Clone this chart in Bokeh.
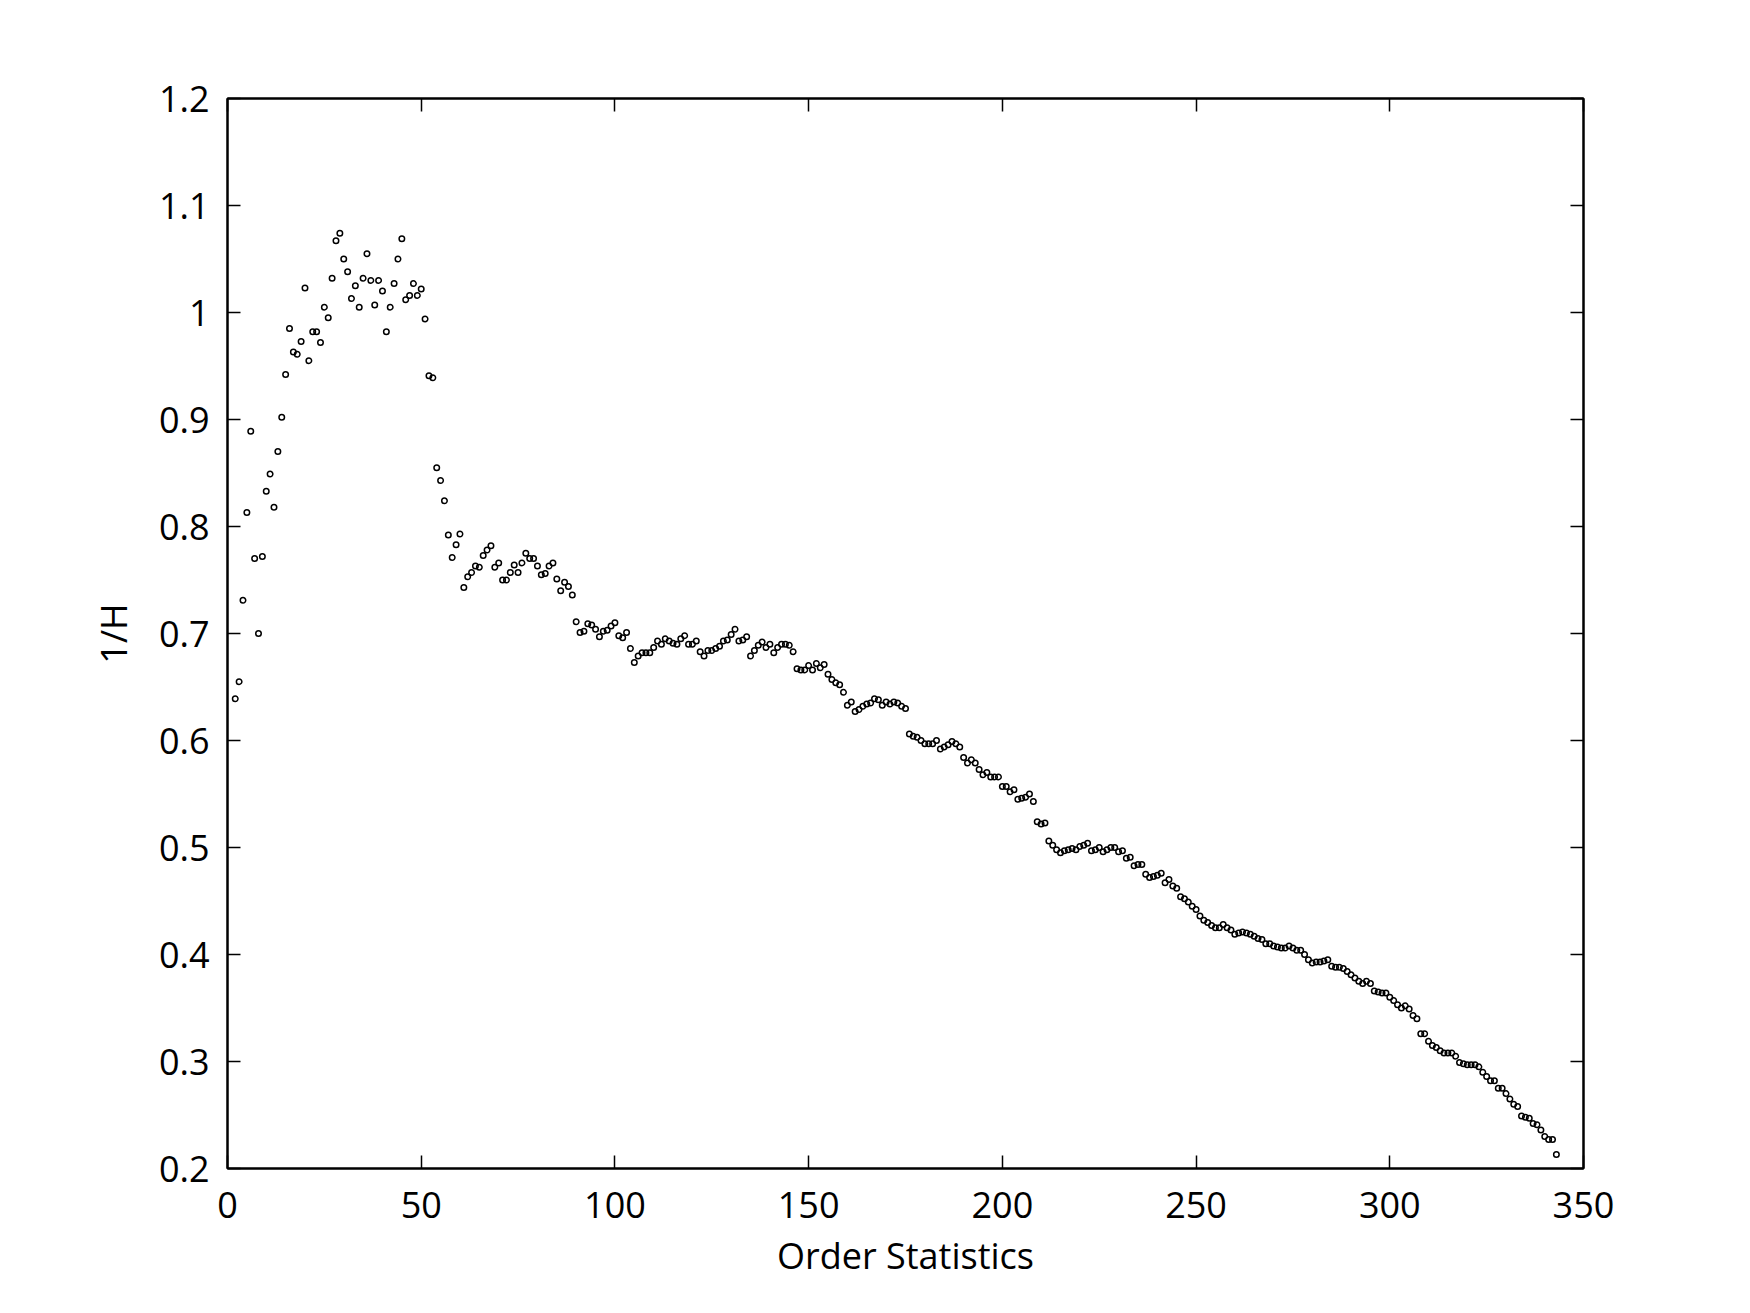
from bokeh.plotting import figure
from bokeh.models import Range1d, FixedTicker, LinearAxis, CustomJSTickFormatter
from bokeh.embed import file_html
from bokeh.resources import INLINE

# ---- data ----
order_stat = list(range(2, 344))
inv_h = [
    0.639, 0.655, 0.731, 0.813, 0.889, 0.770, 0.700, 0.772, 0.833, 0.849,  # 2-11
    0.818, 0.870, 0.902, 0.942, 0.985, 0.963, 0.961, 0.973, 1.023, 0.955,  # 12-21
    0.982, 0.982, 0.972, 1.005, 0.995, 1.032, 1.067, 1.074, 1.050, 1.038,  # 22-31
    1.013, 1.025, 1.005, 1.032, 1.055, 1.030, 1.007, 1.030, 1.020, 0.982,  # 32-41
    1.005, 1.027, 1.050, 1.069, 1.012, 1.016, 1.027, 1.016, 1.022, 0.994,  # 42-51
    0.941, 0.939, 0.855, 0.843, 0.824, 0.792, 0.771, 0.783, 0.793, 0.743,  # 52-61
    0.753, 0.757, 0.763, 0.762, 0.773, 0.778, 0.782, 0.762, 0.766, 0.750,  # 62-71
    0.750, 0.757, 0.764, 0.757, 0.766, 0.775, 0.770, 0.770, 0.763, 0.755,  # 72-81
    0.756, 0.763, 0.766, 0.751, 0.740, 0.748, 0.744, 0.736, 0.711, 0.701,  # 82-91
    0.702, 0.709, 0.708, 0.704, 0.697, 0.702, 0.703, 0.707, 0.710, 0.698,  # 92-101
    0.696, 0.701, 0.686, 0.673, 0.679, 0.682, 0.682, 0.682, 0.687, 0.693,  # 102-111
    0.690, 0.695, 0.693, 0.691, 0.690, 0.695, 0.698, 0.690, 0.690, 0.693,  # 112-121
    0.683, 0.679, 0.684, 0.684, 0.686, 0.688, 0.693, 0.694, 0.699, 0.704,  # 122-131
    0.693, 0.694, 0.697, 0.679, 0.684, 0.689, 0.692, 0.687, 0.690, 0.682,  # 132-141
    0.687, 0.690, 0.690, 0.689, 0.683, 0.667, 0.666, 0.666, 0.670, 0.666,  # 142-151
    0.672, 0.668, 0.671, 0.662, 0.657, 0.654, 0.652, 0.645, 0.633, 0.636,  # 152-161
    0.627, 0.629, 0.632, 0.634, 0.635, 0.639, 0.638, 0.633, 0.636, 0.634,  # 162-171
    0.636, 0.635, 0.632, 0.630, 0.606, 0.604, 0.603, 0.600, 0.597, 0.597,  # 172-181
    0.597, 0.600, 0.592, 0.594, 0.596, 0.599, 0.597, 0.594, 0.584, 0.579,  # 182-191
    0.582, 0.579, 0.573, 0.568, 0.570, 0.566, 0.566, 0.566, 0.557, 0.557,  # 192-201
    0.552, 0.554, 0.545, 0.546, 0.547, 0.550, 0.543, 0.524, 0.522, 0.523,  # 202-211
    0.506, 0.502, 0.498, 0.495, 0.497, 0.498, 0.499, 0.498, 0.501, 0.502,  # 212-221
    0.504, 0.497, 0.498, 0.500, 0.496, 0.498, 0.500, 0.500, 0.496, 0.497,  # 222-231
    0.490, 0.491, 0.483, 0.484, 0.484, 0.475, 0.472, 0.473, 0.474, 0.476,  # 232-241
    0.467, 0.470, 0.464, 0.462, 0.454, 0.452, 0.449, 0.445, 0.442, 0.436,  # 242-251
    0.432, 0.430, 0.427, 0.425, 0.425, 0.428, 0.425, 0.423, 0.419, 0.420,  # 252-261
    0.421, 0.420, 0.419, 0.417, 0.415, 0.414, 0.410, 0.410, 0.408, 0.407,  # 262-271
    0.406, 0.406, 0.408, 0.406, 0.404, 0.404, 0.400, 0.395, 0.392, 0.393,  # 272-281
    0.393, 0.394, 0.395, 0.389, 0.388, 0.388, 0.387, 0.384, 0.381, 0.378,  # 282-291
    0.375, 0.373, 0.375, 0.373, 0.366, 0.365, 0.364, 0.364, 0.360, 0.357,  # 292-301
    0.353, 0.350, 0.352, 0.349, 0.343, 0.340, 0.326, 0.326, 0.319, 0.315,  # 302-311
    0.313, 0.310, 0.308, 0.308, 0.308, 0.305, 0.299, 0.298, 0.297, 0.297,  # 312-321
    0.297, 0.295, 0.290, 0.286, 0.282, 0.282, 0.275, 0.275, 0.270, 0.265,  # 322-331
    0.260, 0.258, 0.249, 0.248, 0.247, 0.242, 0.241, 0.236, 0.230, 0.227,  # 332-341
    0.227, 0.213,                                                          # 342-343
]

x_ticks = [0, 50, 100, 150, 200, 250, 300, 350]
y_ticks = [0.2, 0.3, 0.4, 0.5, 0.6, 0.7, 0.8, 0.9, 1.0, 1.1, 1.2]
y_tick_labels = ["0.2", "0.3", "0.4", "0.5", "0.6", "0.7", "0.8", "0.9", "1", "1.1", "1.2"]
x_label = "Order Statistics"
y_label = "1/H"

FONT = "Open Sans"

p = figure(
    width=1742, height=1305,
    x_range=Range1d(0, 350), y_range=Range1d(0.2, 1.2),
    output_backend="svg", toolbar_location=None,
    min_border_left=227, min_border_right=159,
    min_border_top=98, min_border_bottom=137,
)
p.xgrid.visible = False
p.ygrid.visible = False
p.outline_line_color = "black"
p.outline_line_width = 2
p.background_fill_color = "white"
p.border_fill_color = "white"

y_fmt = CustomJSTickFormatter(
    args=dict(tvals=y_ticks, tlabels=y_tick_labels),
    code="""
    let best = 0, d = Infinity;
    for (let i = 0; i < tvals.length; i++) {
        const dd = Math.abs(tvals[i] - tick);
        if (dd < d) { d = dd; best = i; }
    }
    return tlabels[best];
    """,
)
blank_fmt = CustomJSTickFormatter(code="return '';")


def style(ax):
    ax.axis_line_color = "black"
    ax.axis_line_width = 2
    ax.major_tick_in = 13
    ax.major_tick_out = 0
    ax.major_tick_line_color = "black"
    ax.major_tick_line_width = 1.5
    ax.minor_tick_line_color = None
    ax.major_label_text_font = FONT
    ax.major_label_text_font_size = "36px"
    ax.major_label_text_color = "black"
    ax.axis_label_text_font = FONT
    ax.axis_label_text_font_size = "36px"
    ax.axis_label_text_font_style = "normal"
    ax.axis_label_text_color = "black"


xa = p.xaxis[0]
xa.ticker = FixedTicker(ticks=x_ticks)
style(xa)
xa.major_label_standoff = 23
xa.axis_label = x_label
xa.axis_label_standoff = 10

ya = p.yaxis[0]
ya.ticker = FixedTicker(ticks=y_ticks)
ya.formatter = y_fmt
style(ya)
ya.major_label_standoff = 18
ya.axis_label = y_label
ya.axis_label_standoff = 18

top = LinearAxis(ticker=FixedTicker(ticks=x_ticks), formatter=blank_fmt)
style(top)
p.add_layout(top, "above")
right = LinearAxis(ticker=FixedTicker(ticks=y_ticks), formatter=blank_fmt)
style(right)
p.add_layout(right, "right")

p.scatter(order_stat, inv_h, marker="circle", size=5.5,
          line_color="black", line_width=1.5, fill_color=None)

open("out.html", "w").write(file_html(p, INLINE))
